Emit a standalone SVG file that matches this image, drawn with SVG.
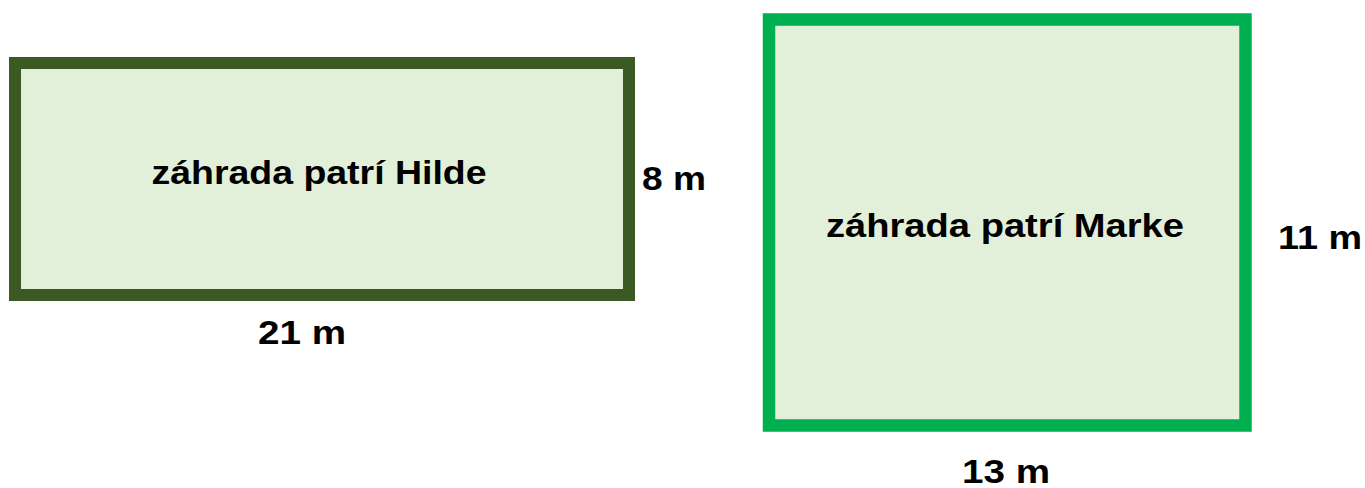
<svg xmlns="http://www.w3.org/2000/svg" width="1365" height="488" viewBox="0 0 1365 488">
<style>
.t{font-family:"Liberation Sans",Arial,sans-serif;font-weight:bold;font-size:34px;fill:#000}
.f{fill:#E2EFD9}
</style>
<rect width="1365" height="488" fill="#fff"/>
<g id="hilde">
<rect class="f" x="15" y="63" width="614" height="232" stroke="#3B5A23" stroke-width="12"/>
<text class="t" x="319" y="184" text-anchor="middle" textLength="335" lengthAdjust="spacingAndGlyphs">záhrada patrí Hilde</text>
<text class="t" x="642" y="190" textLength="64" lengthAdjust="spacingAndGlyphs">8 m</text>
<text class="t" x="258" y="344" textLength="88" lengthAdjust="spacingAndGlyphs">21 m</text>
</g>
<g id="marke">
<rect class="f" x="769" y="19.5" width="476.5" height="406" stroke="#00B050" stroke-width="12.5"/>
<text class="t" x="1005" y="237" text-anchor="middle" textLength="358" lengthAdjust="spacingAndGlyphs">záhrada patrí Marke</text>
<text class="t" x="1278" y="249" textLength="84" lengthAdjust="spacingAndGlyphs">11 m</text>
<text class="t" x="962" y="483" textLength="88" lengthAdjust="spacingAndGlyphs">13 m</text>
</g>
<g id="connectors"/>
</svg>
